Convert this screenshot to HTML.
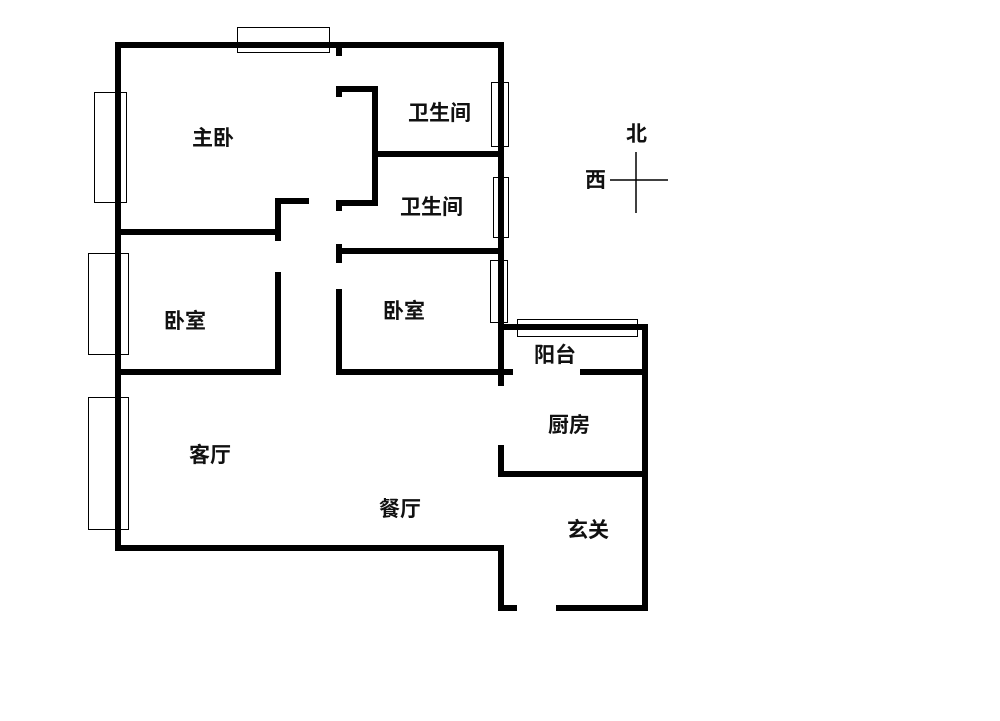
<!DOCTYPE html>
<html><head><meta charset="utf-8"><style>
html,body{margin:0;padding:0;background:#fff;}
svg{display:block}
text{font-family:"Liberation Sans","Noto Sans CJK SC",sans-serif;font-size:21px;font-weight:bold;fill:#111}
</style></head><body>
<svg width="1000" height="721" viewBox="0 0 1000 721">
<g stroke="#000" stroke-width="6" fill="none" stroke-linecap="square">
<line x1="118" y1="45" x2="501" y2="45"/>
<line x1="118" y1="45" x2="118" y2="548"/>
<line x1="501" y1="45" x2="501" y2="383"/>
<line x1="118" y1="548" x2="501" y2="548"/>
<line x1="501" y1="548" x2="501" y2="608"/>
<line x1="501" y1="608" x2="514" y2="608"/>
<line x1="559" y1="608" x2="645" y2="608"/>
<line x1="645" y1="327" x2="645" y2="608"/>
<line x1="501" y1="327" x2="645" y2="327"/>
<line x1="339" y1="48" x2="339" y2="53"/>
<line x1="339" y1="89" x2="375" y2="89"/>
<line x1="339" y1="89" x2="339" y2="94"/>
<line x1="375" y1="89" x2="375" y2="203"/>
<line x1="339" y1="203" x2="375" y2="203"/>
<line x1="339" y1="203" x2="339" y2="208"/>
<line x1="375" y1="154" x2="501" y2="154"/>
<line x1="278" y1="201" x2="306" y2="201"/>
<line x1="278" y1="201" x2="278" y2="238"/>
<line x1="118" y1="232" x2="278" y2="232"/>
<line x1="339" y1="251" x2="501" y2="251"/>
<line x1="339" y1="247" x2="339" y2="260"/>
<line x1="278" y1="275" x2="278" y2="372"/>
<line x1="118" y1="372" x2="278" y2="372"/>
<line x1="339" y1="292" x2="339" y2="372"/>
<line x1="339" y1="372" x2="510" y2="372"/>
<line x1="583" y1="372" x2="645" y2="372"/>
<line x1="501" y1="448" x2="501" y2="474"/>
<line x1="501" y1="474" x2="645" y2="474"/>
</g>
<g stroke="#000" stroke-width="1" fill="none">
<rect x="237.5" y="27.5" width="92" height="25"/>
<rect x="94.5" y="92.5" width="32" height="110"/>
<rect x="88.5" y="253.5" width="40" height="101"/>
<rect x="88.5" y="397.5" width="40" height="132"/>
<rect x="491.5" y="82.5" width="17" height="64"/>
<rect x="493.5" y="177.5" width="15" height="60"/>
<rect x="490.5" y="260.5" width="17" height="62"/>
<rect x="517.5" y="319.5" width="120" height="17"/>
<line x1="636" y1="152" x2="636" y2="213" stroke-width="1.5"/>
<line x1="610" y1="180" x2="668" y2="180" stroke-width="1.5"/>
</g>
<text x="192" y="145">主卧</text>
<text x="408" y="120">卫生间</text>
<text x="400" y="214">卫生间</text>
<text x="164" y="328">卧室</text>
<text x="383" y="318">卧室</text>
<text x="534" y="362">阳台</text>
<text x="548" y="432">厨房</text>
<text x="189" y="462">客厅</text>
<text x="379" y="516">餐厅</text>
<text x="567" y="537">玄关</text>
<text x="626" y="141">北</text>
<text x="585" y="187">西</text>
</svg>
</body></html>
